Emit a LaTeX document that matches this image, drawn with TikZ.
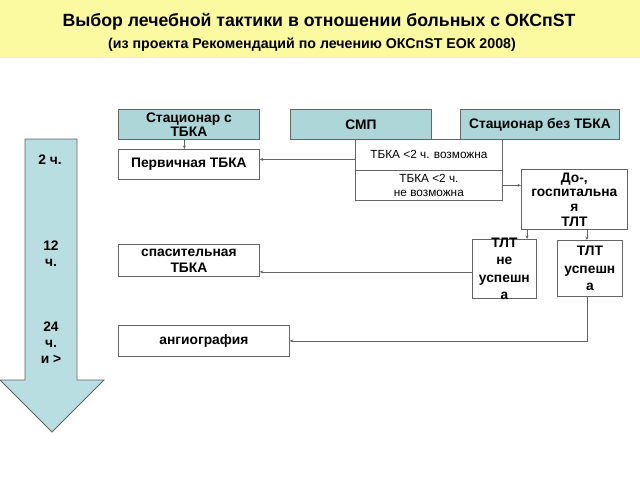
\documentclass[tikz,border=0pt]{standalone}
\usepackage{fontspec}
\setmainfont{Liberation Sans}
\usetikzlibrary{arrows.meta}
\definecolor{bannerclr}{RGB}{252,250,160}
\definecolor{boxteal}{RGB}{172,214,216}
\definecolor{arrowfill}{RGB}{184,222,226}
\definecolor{lineclr}{RGB}{100,100,100}
\tikzset{
  box/.style={draw=lineclr, line width=0.8pt, fill=white, inner sep=0pt,
    anchor=north west, align=center, font=\bfseries\fontsize{13.8}{14}\selectfont},
  hdrbox/.style={box, fill=boxteal},
  optbox/.style={box, font=\fontsize{11.8}{14}\selectfont},
  timetxt/.style={align=center, font=\bfseries\fontsize{13.8}{16}\selectfont},
  arr/.style={draw=lineclr, line width=0.6pt, -{Stealth[length=3.5pt,width=3pt]}},
}
\begin{document}
\begin{tikzpicture}[x=1pt,y=-1pt]
 \useasboundingbox (0,0) rectangle (640,480);
 % title
 \fill[bannerclr] (0,0) rectangle (640,58);
 \node (title) at (319,22) {\bfseries\fontsize{17.7}{20}\selectfont Выбор лечебной тактики в отношении больных с ОКСпST};
 \node (subtitle) at (312,45) {\bfseries\fontsize{14.2}{16}\selectfont (из проекта Рекомендаций по лечению ОКСпST ЕОК 2008)};
 % time arrow
 \draw[draw=lineclr, line width=0.8pt, fill=arrowfill] (25,139) -- (77,139) -- (77,380) -- (104,380)
   -- (52,432) -- (0,380) -- (25,380) -- cycle;
 \node[timetxt] (t2) at (50,160) {2 ч.};
 \node[timetxt] (t12) at (51,254) {12\\ч.};
 \node[timetxt] (t24) at (51,343) {24\\ч.\\и >};
 % boxes
 \node[hdrbox, minimum width=141pt, minimum height=30pt] (stac) at (118,109) {Стационар с\\ТБКА};
 \node[hdrbox, minimum width=141pt, minimum height=30pt] (smp) at (290,109) {СМП};
 \node[hdrbox, minimum width=159pt, minimum height=30pt] (stacbez) at (460,109) {Стационар без ТБКА};
 \node[box, minimum width=141pt, minimum height=30pt] (perv) at (118,149) {Первичная ТБКА};
 \node[optbox, minimum width=147pt, minimum height=31pt] (vozm) at (355,139) {ТБКА <2 ч. возможна};
 \node[optbox, minimum width=147pt, minimum height=30pt] (nevozm) at (355,170) {ТБКА <2 ч.\\не возможна};
 \node[box, minimum width=106pt, minimum height=60pt, font=\bfseries\fontsize{13.8}{14.7}\selectfont] (dogosp) at (521,169) {До-,\\госпитальна\\я\\ТЛТ};
 \node[box, minimum width=64pt, minimum height=59pt,
   label={[align=center, font=\bfseries\fontsize{13.8}{17.3}\selectfont]center:{ТЛТ\\не\\успешн\\а}}] (neusp) at (472,239) {};
 \node[box, minimum width=65pt, minimum height=56pt, font=\bfseries\fontsize{13.8}{17.5}\selectfont] (usp) at (557,240) {ТЛТ\\успешн\\а};
 \node[box, minimum width=141pt, minimum height=32pt, font=\bfseries\fontsize{13.8}{16}\selectfont] (spas) at (118,244) {спасительная\\ТБКА};
 \node[box, minimum width=171pt, minimum height=31pt] (angio) at (118,325) {ангиография};
 % connectors
 \draw[arr] ([xshift=-4.5pt]stac.south) -- ([xshift=-4.5pt]perv.north);
 \draw[arr] ([yshift=-4.5pt]vozm.west) -- ([yshift=-4.5pt]vozm.west -| perv.east);
 \draw[arr] (nevozm.east) -- (nevozm.east -| dogosp.west);
 \draw[arr] ([xshift=6pt]dogosp.south west) -- ([xshift=6pt]dogosp.south west |- neusp.north);
 \draw[arr] ([xshift=-3pt]dogosp.south -| usp.north) -- ([xshift=-3pt]usp.north);
 \draw[arr] ([yshift=-3pt]neusp.west) -- ([yshift=-3pt]neusp.west -| spas.east);
 \draw[arr] ([xshift=-3pt]usp.south) |- (angio.east);
\end{tikzpicture}
\end{document}
